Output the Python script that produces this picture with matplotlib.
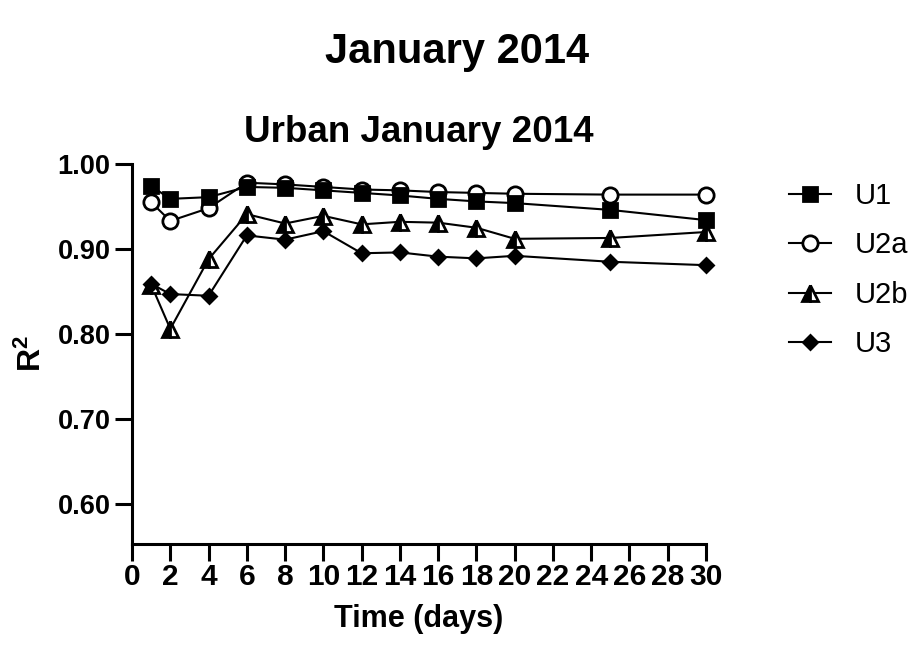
import matplotlib.pyplot as plt

# sampling days and R^2 per site
days = [1, 2, 4, 6, 8, 10, 12, 14, 16, 18, 20, 25, 30]
u1  = [0.974, 0.959, 0.961, 0.973, 0.972, 0.969, 0.966, 0.963, 0.959, 0.956, 0.954, 0.946, 0.934]
u2a = [0.955, 0.933, 0.948, 0.978, 0.976, 0.973, 0.970, 0.969, 0.967, 0.966, 0.965, 0.964, 0.964]
u2b = [0.858, 0.806, 0.888, 0.941, 0.930, 0.939, 0.929, 0.932, 0.931, 0.925, 0.912, 0.913, 0.920]
u3  = [0.859, 0.847, 0.845, 0.916, 0.911, 0.921, 0.895, 0.896, 0.891, 0.889, 0.892, 0.885, 0.881]
labels = ['U1', 'U2a', 'U2b', 'U3']
xticks = list(range(0, 31, 2))
yticks = [0.60, 0.70, 0.80, 0.90, 1.00]

plt.rcParams['font.family'] = ['Liberation Sans', 'DejaVu Sans']
plt.rcParams['mathtext.fontset'] = 'custom'
plt.rcParams['mathtext.rm'] = 'Liberation Sans'
plt.rcParams['mathtext.bf'] = 'Liberation Sans:bold'

fig = plt.figure(figsize=(9.15, 6.49), dpi=100)
ax = fig.add_axes([0.1443, 0.1618, 0.6273, 0.5855])

style = dict(color='black', lw=1.5, mew=2, clip_on=False)
l2a, = ax.plot(days, u2a, marker='o', ms=11, mfc='white', mec='black', zorder=3, **style)
l1,  = ax.plot(days, u1, marker='s', ms=10.5, mfc='black', mec='black', zorder=4, **style)
l2b, = ax.plot(days, u2b, marker='^', ms=11, fillstyle='left', mfc='black',
               markerfacecoloralt='white', mec='black', zorder=3, **style)
l3,  = ax.plot(days, u3, marker='D', ms=7, mfc='black', mec='black', zorder=4, **style)

ax.set_xlim(0, 30)
ax.set_ylim(0.553, 1.0)
ax.set_xticks(xticks)
ax.set_yticks(yticks)
ax.set_yticklabels(['%.2f' % v for v in yticks])

for side in ['top', 'right']:
    ax.spines[side].set_visible(False)
for side in ['left', 'bottom']:
    ax.spines[side].set_linewidth(2.2)
    ax.spines[side].set_capstyle('projecting')

ax.tick_params(axis='both', direction='out', length=12, width=2.2, color='black')
ax.tick_params(axis='y', pad=3.5)
ax.tick_params(axis='x', pad=2)
for t in ax.get_yticklabels():
    t.set_fontsize(19.5)
    t.set_fontweight('bold')
for t in ax.get_xticklabels():
    t.set_fontsize(21.5)
    t.set_fontweight('bold')

ax.set_xlabel('Time (days)', fontsize=22, fontweight='bold', labelpad=9)
ax.set_ylabel(r'$\mathbf{R^2}$', fontsize=23, labelpad=7)
ax.set_title('Urban January 2014', fontsize=26.5, fontweight='bold', pad=16)
fig.suptitle('January 2014', fontsize=30, fontweight='bold', y=0.95)

fig.legend([l1, l2a, l2b, l3], labels, loc='upper left', bbox_to_anchor=(0.862, 0.72),
           frameon=False, fontsize=21, handlelength=1.45, handletextpad=0.8,
           labelspacing=0.74, borderpad=0, borderaxespad=0)

fig.savefig('out.png', dpi=100)
